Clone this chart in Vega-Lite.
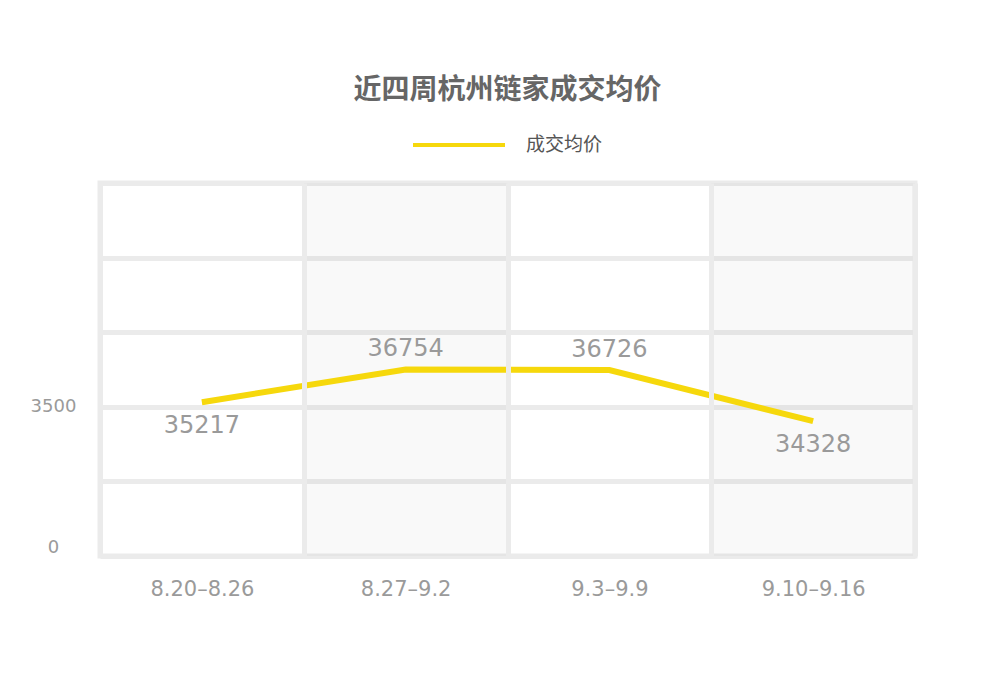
{
  "$schema": "https://vega.github.io/schema/vega-lite/v6.json",
  "width": 815,
  "height": 373,
  "autosize": "none",
  "padding": {"left": 100, "top": 183, "right": 85, "bottom": 122},
  "background": "#ffffff",
  "title": {
    "text": "近四周杭州链家成交均价",
    "font": "Noto Sans CJK SC",
    "fontSize": 28,
    "fontWeight": "bold",
    "color": "#666666",
    "anchor": "middle",
    "frame": "group",
    "offset": -8
  },
  "data": {
    "values": [
      {"week": "8.20–8.26", "price": 35217},
      {"week": "8.27–9.2", "price": 36754},
      {"week": "9.3–9.9", "price": 36726},
      {"week": "9.10–9.16", "price": 34328}
    ]
  },
  "encoding": {
    "x": {
      "field": "week",
      "type": "ordinal",
      "sort": ["8.20–8.26", "8.27–9.2", "9.3–9.9", "9.10–9.16"],
      "scale": {"paddingInner": 0, "paddingOuter": 0},
      "axis": {
        "title": null,
        "labelAngle": 0,
        "domain": false,
        "ticks": false,
        "tickSize": 0,
        "tickBand": "extent",
        "grid": true,
        "gridColor": "#ebebeb",
        "gridWidth": 5,
        "labelFont": "DejaVu Sans",
        "labelFontSize": 21,
        "labelColor": "#9a9a9a",
        "labelPadding": 22
      }
    }
  },
  "layer": [
    {
      "transform": [{"filter": "indexof(['8.27–9.2', '9.10–9.16'], datum.week) >= 0"}],
      "mark": {"type": "rect", "fill": "#000000", "opacity": 0.025}
    },
    {
      "mark": {"type": "line", "strokeWidth": 6, "strokeCap": "butt"},
      "encoding": {
        "y": {
          "field": "price",
          "type": "quantitative",
          "scale": {"domain": [28000, 45500], "nice": false, "zero": false},
          "axis": {
            "title": null,
            "values": [28000, 31500, 35000, 38500, 42000, 45500],
            "labelExpr": "datum.value == 35000 ? '3500' : (datum.value == 28000 ? '0' : '')",
            "domain": false,
            "ticks": false,
            "tickSize": 0,
            "grid": true,
            "gridColor": "#ebebeb",
            "gridWidth": 5,
            "labelFlush": true,
            "labelAlign": "center",
            "labelPadding": 47,
            "labelFont": "DejaVu Sans",
            "labelFontSize": 18,
            "labelColor": "#9a9a9a"
          }
        },
        "color": {
          "datum": "成交均价",
          "type": "nominal",
          "scale": {"range": ["#f6d80c"]},
          "legend": {
            "title": null,
            "orient": "none",
            "legendX": 311,
            "legendY": -86,
            "symbolType": "stroke",
            "symbolSize": 8464,
            "symbolStrokeWidth": 4,
            "labelOffset": 19,
            "labelFont": "Noto Sans CJK SC",
            "labelFontSize": 19,
            "labelColor": "#555555"
          }
        }
      }
    },
    {
      "transform": [{"filter": "indexof(['8.27–9.2', '9.3–9.9'], datum.week) >= 0"}],
      "mark": {"type": "text", "dy": -20, "font": "DejaVu Sans", "fontSize": 24, "color": "#9a9a9a"},
      "encoding": {
        "y": {"field": "price", "type": "quantitative"},
        "text": {"field": "price", "type": "quantitative", "format": "d"}
      }
    },
    {
      "transform": [{"filter": "indexof(['8.20–8.26', '9.10–9.16'], datum.week) >= 0"}],
      "mark": {"type": "text", "dy": 24, "font": "DejaVu Sans", "fontSize": 24, "color": "#9a9a9a"},
      "encoding": {
        "y": {"field": "price", "type": "quantitative"},
        "text": {"field": "price", "type": "quantitative", "format": "d"}
      }
    }
  ],
  "config": {
    "view": {"stroke": "#ebebeb", "strokeWidth": 5}
  }
}
